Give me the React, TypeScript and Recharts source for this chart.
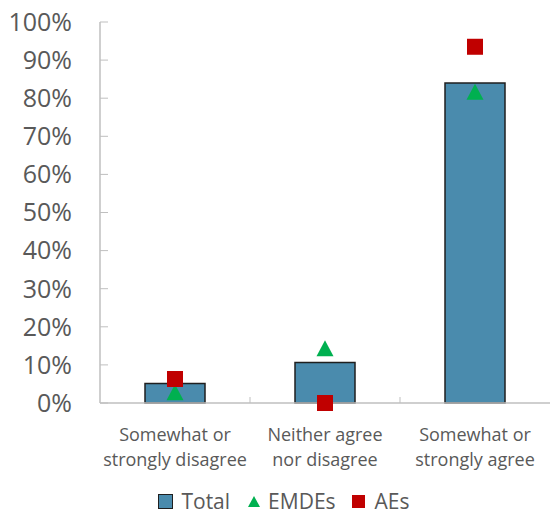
import React from 'react';
import { ComposedChart, Bar, Scatter, XAxis, YAxis, Legend } from 'recharts';

const categories = [
  'Somewhat or\nstrongly disagree',
  'Neither agree\nnor disagree',
  'Somewhat or\nstrongly agree',
];
const totalValues = [5.1, 10.6, 84.0];
const emdeValues = [2.8, 14.4, 81.7];
const aeValues = [6.3, 0, 93.5];
const yTicks = [0, 10, 20, 30, 40, 50, 60, 70, 80, 90, 100];

const data = categories.map((name, i) => ({
  name,
  total: totalValues[i],
  emdes: emdeValues[i],
  aes: aeValues[i],
}));

const FONT = '"Open Sans", "Noto Sans", sans-serif';
const TEXT = '#595959';
const AXIS = '#BFBFBF';
const BAR = '#4A8BAD';
const BAR_STROKE = '#1F1F1F';
const GREEN = '#00B050';
const RED = '#C00000';

const CategoryTick = (props: any) => {
  const { x, y, payload, index, visibleTicksCount } = props;
  const lines = String(payload.value).split('\n');
  const half = payload && typeof payload.offset === 'number' ? payload.offset : 0;
  return (
    <g>
      {half > 0 && index < visibleTicksCount - 1 && (
        <line x1={x + half} x2={x + half} y1={y} y2={y - 6} stroke={AXIS} strokeWidth={1} />
      )}
      <text x={x} y={y} textAnchor="middle" fill={TEXT} fontSize={18} fontFamily={FONT}>
        {lines.map((l, i) => (
          <tspan key={i} x={x} dy={i === 0 ? 38 : 25}>
            {l}
          </tspan>
        ))}
      </text>
    </g>
  );
};

const SquareShape = (p: any) => (
  <rect x={p.cx - 8} y={p.cy - 8} width={16} height={16} fill={RED} />
);

const TriangleShape = (p: any) => (
  <polygon
    points={`${p.cx},${p.cy - 8} ${p.cx + 8.5},${p.cy + 8} ${p.cx - 8.5},${p.cy + 8}`}
    fill={GREEN}
  />
);

const LegendContent = () => (
  <div
    style={{
      display: 'flex',
      justifyContent: 'center',
      alignItems: 'center',
      height: 28,
      lineHeight: '28px',
      fontFamily: FONT,
      fontSize: 21,
      color: TEXT,
      paddingLeft: 18,
      boxSizing: 'border-box',
    }}
  >
    <span
      style={{
        display: 'inline-block',
        width: 13,
        height: 13,
        background: BAR,
        border: `1.5px solid ${BAR_STROKE}`,
        marginRight: 8,
      }}
    />
    <span style={{ marginRight: 18 }}>Total</span>
    <svg width={12} height={11} style={{ marginRight: 8 }}>
      <polygon points="6,0 12,11 0,11" fill={GREEN} />
    </svg>
    <span style={{ marginRight: 16 }}>EMDEs</span>
    <span
      style={{ display: 'inline-block', width: 13, height: 13, background: RED, marginRight: 10 }}
    />
    <span>AEs</span>
  </div>
);

export default function App() {
  return (
    <div style={{ position: 'absolute', left: 0, top: 0, background: '#fff' }}>
      <ComposedChart
        width={552}
        height={515}
        data={data}
        margin={{ top: 22, right: 2, left: 0, bottom: 0 }}
        style={{ fontFamily: FONT }}
      >
        <XAxis
          dataKey="name"
          height={84}
          interval={0}
          tickLine={false}
          tickSize={0}
          tickMargin={0}
          axisLine={{ stroke: AXIS, strokeWidth: 1.5 }}
          tick={<CategoryTick />}
        />
        <XAxis
          xAxisId="top"
          dataKey="name"
          orientation="top"
          height={0}
          tick={false}
          tickLine={false}
          axisLine={{ stroke: AXIS, strokeWidth: 1.5 }}
        />
        <YAxis
          domain={[0, 100]}
          ticks={yTicks}
          interval={0}
          tickFormatter={(v: number) => `${v}%`}
          width={100}
          axisLine={{ stroke: AXIS, strokeWidth: 1.5 }}
          tickLine={{ stroke: AXIS }}
          tickSize={-8}
          tickMargin={36}
          tick={{ fontSize: 25, fill: TEXT, fontFamily: FONT }}
        />
        <YAxis
          yAxisId="right"
          orientation="right"
          domain={[0, 100]}
          width={0}
          tick={false}
          tickLine={false}
          axisLine={{ stroke: AXIS, strokeWidth: 1.5 }}
        />
        <Legend verticalAlign="bottom" content={<LegendContent />} />
        <Bar
          dataKey="total"
          name="Total"
          barSize={60}
          fill={BAR}
          stroke={BAR_STROKE}
          strokeWidth={1.5}
          isAnimationActive={false}
        />
        <Scatter dataKey="emdes" name="EMDEs" shape={<TriangleShape />} isAnimationActive={false} />
        <Scatter dataKey="aes" name="AEs" shape={<SquareShape />} isAnimationActive={false} />
      </ComposedChart>
    </div>
  );
}
